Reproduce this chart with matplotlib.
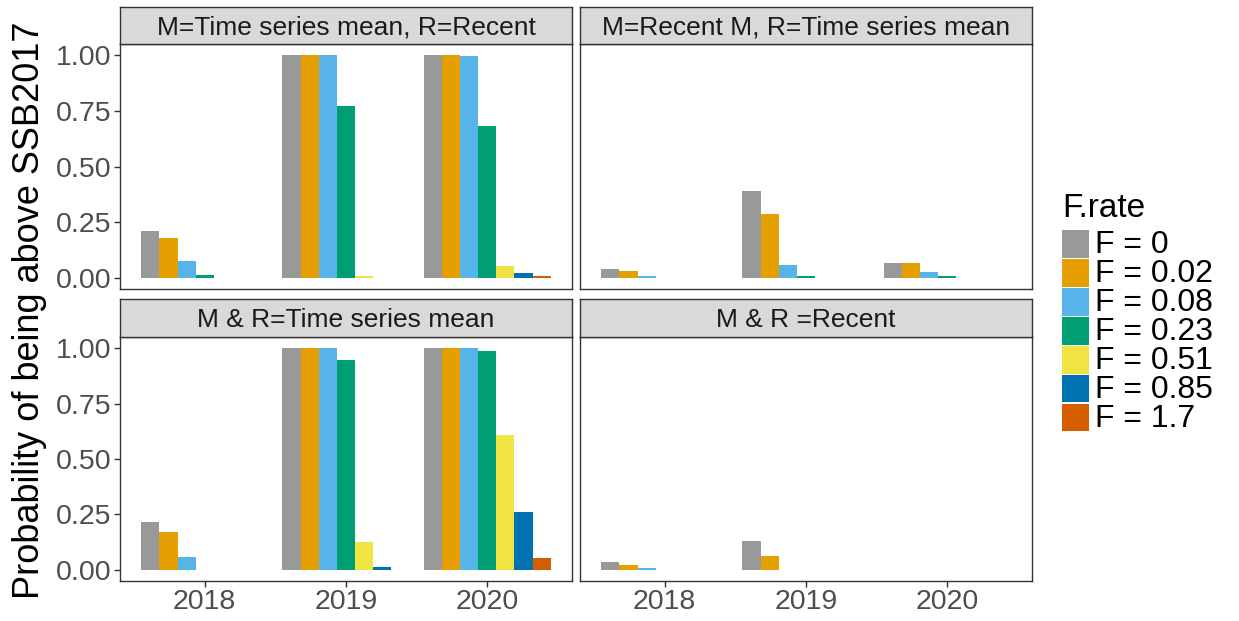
import matplotlib
matplotlib.use("Agg")
import matplotlib.pyplot as plt
from matplotlib.patches import Rectangle
import numpy as np

plt.rcParams['font.family'] = ['Liberation Sans', 'DejaVu Sans']

years = ["2018", "2019", "2020"]
f_labels = ["F = 0", "F = 0.02", "F = 0.08", "F = 0.23", "F = 0.51", "F = 0.85", "F = 1.7"]
colors = ["#999999", "#E69F00", "#56B4E9", "#009E73", "#F0E442", "#0072B2", "#D55E00"]

panel_titles = ["M=Time series mean, R=Recent", "M=Recent M, R=Time series mean",
                "M & R=Time series mean", "M & R =Recent"]

# values[f_index][year_index]
ts_mean_recent = [
    [0.21, 1.00, 1.00],
    [0.18, 1.00, 1.00],
    [0.076, 1.00, 0.995],
    [0.013, 0.77, 0.68],
    [0.0, 0.01, 0.055],
    [0.0, 0.0, 0.022],
    [0.0, 0.0, 0.008],
]
recent_m_ts_r = [
    [0.042, 0.39, 0.066],
    [0.033, 0.287, 0.066],
    [0.009, 0.058, 0.027],
    [0.0, 0.008, 0.01],
    [0.0, 0.0, 0.0],
    [0.0, 0.0, 0.0],
    [0.0, 0.0, 0.0],
]
both_ts_mean = [
    [0.218, 1.00, 1.00],
    [0.169, 1.00, 1.00],
    [0.06, 1.00, 1.00],
    [0.0, 0.945, 0.985],
    [0.0, 0.124, 0.61],
    [0.0, 0.015, 0.263],
    [0.0, 0.0, 0.055],
]
both_recent = [
    [0.037, 0.129, 0.0],
    [0.024, 0.064, 0.0],
    [0.008, 0.0, 0.0],
    [0.0, 0.0, 0.0],
    [0.0, 0.0, 0.0],
    [0.0, 0.0, 0.0],
    [0.0, 0.0, 0.0],
]
panel_data = [ts_mean_recent, recent_m_ts_r, both_ts_mean, both_recent]

W, H = 1239, 621
fig = plt.figure(figsize=(W / 100, H / 100), dpi=100)

def fx(px):
    return px / W

def fy(py):
    return 1 - py / H

panel_px = [
    (120, 44, 572, 289),
    (580, 44, 1032, 289),
    (120, 337, 572, 581),
    (580, 337, 1032, 581),
]
strip_px = [
    (120, 7, 572, 44),
    (580, 7, 1032, 44),
    (120, 299, 572, 337),
    (580, 299, 1032, 337),
]

edge = "#333333"
tick_col = "#4D4D4D"
n = len(f_labels)
w = 0.9 / n
x = np.arange(len(years))

for i, (data, title) in enumerate(zip(panel_data, panel_titles)):
    l, t, r, b = panel_px[i]
    ax = fig.add_axes([fx(l), fy(b), fx(r - l), (b - t) / H])
    for j in range(n):
        ax.bar(x + (j - (n - 1) / 2) * w, data[j], width=w, color=colors[j], linewidth=0)
    ax.set_xlim(-0.6, 2.6)
    ax.set_ylim(-0.05, 1.05)
    for s in ax.spines.values():
        s.set_color(edge)
        s.set_linewidth(1.0)
    ax.set_xticks(x)
    ax.set_yticks([0, 0.25, 0.5, 0.75, 1.0])
    ax.tick_params(axis='both', colors=edge, labelcolor=tick_col, labelsize=20.5,
                   length=4, width=1, pad=2)
    if i in (0, 1):
        ax.tick_params(axis='x', bottom=False, labelbottom=False)
    else:
        ax.set_xticklabels(years)
    if i in (1, 3):
        ax.tick_params(axis='y', left=False, labelleft=False)
    else:
        ax.set_yticklabels(["0.00", "0.25", "0.50", "0.75", "1.00"])

    sl, st, sr, sb = strip_px[i]
    sax = fig.add_axes([fx(sl), fy(sb), fx(sr - sl), (sb - st) / H])
    sax.set_facecolor("#D9D9D9")
    sax.set_xticks([])
    sax.set_yticks([])
    for s in sax.spines.values():
        s.set_color(edge)
        s.set_linewidth(1.0)
    sax.text(0.5, 0.45, title, ha='center', va='center', fontsize=19,
             color="#1A1A1A", transform=sax.transAxes)

fig.text(fx(30), fy(310), "Probability of being above SSB2017", rotation=90,
         ha='center', va='center', fontsize=26, color='black')

# legend
fig.text(fx(1062), fy(209), "F.rate", ha='left', va='center', fontsize=24, color='black')
key_top = 230
key_h = 28.9
for j in range(n):
    y0 = key_top + j * key_h
    fig.add_artist(Rectangle((fx(1062), fy(y0 + key_h - 1)), fx(27), (key_h - 1.5) / H,
                             transform=fig.transFigure, facecolor=colors[j], edgecolor='none'))
    fig.text(fx(1095), fy(y0 + key_h / 2 + 1), f_labels[j], ha='left', va='center',
             fontsize=23, color='black')

fig.savefig("out.png", dpi=100)
